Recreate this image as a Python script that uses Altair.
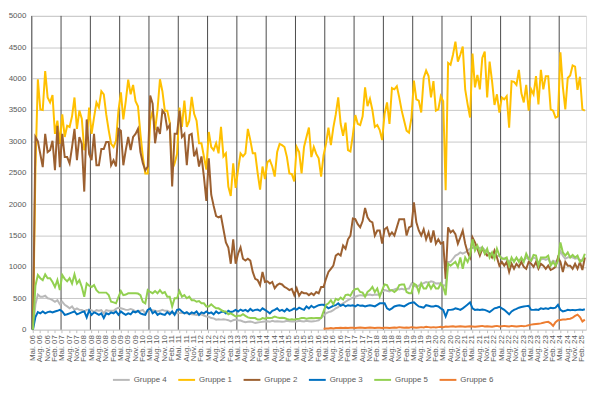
import altair as alt
import pandas as pd

# Month categories: Mai 06 ... Mär 25 (one per month)
MONTH_NAMES = ["Jan.", "Feb.", "Mär.", "Apr.", "Mai.", "Jun.", "Jul.", "Aug.", "Sep.", "Okt.", "Nov.", "Dez."]
months = []
for k in range(227):
    m = (4 + k) % 12
    y = 6 + (4 + k) // 12
    months.append(f"{MONTH_NAMES[m]} {y:02d}")
tick_labels = months[::3]
year_lines = months[::12]

series_order = ["Gruppe 4", "Gruppe 1", "Gruppe 2", "Gruppe 3", "Gruppe 5", "Gruppe 6"]
series_colors = ["#B9B9B9", "#FFC000", "#9C6030", "#0070C0", "#92D050", "#ED7D31"]

gruppe1 = [
    0, 2550, 3990, 3510, 3500, 4120, 3700, 3620, 3740, 3120, 3330,
    2960, 3430, 3070, 3250, 3230, 3400, 3700, 3200, 3490, 3360, 2860, 3010,
    3540, 3120, 3380, 3620, 3540, 3800, 3750, 3430, 3180, 2960, 2910, 3010,
    3490, 3780, 3350, 3640, 3985, 3750, 3900, 3640, 3560, 3120, 2750, 2490,
    2490, 3330, 3490, 3180, 3500, 3990, 3800, 3490, 3490, 3300, 2550, 2650,
    2800, 3540, 3230, 3650, 3230, 3330, 3710, 3440, 3330, 2970, 2970, 2760,
    2550, 3150, 2910, 2860, 2970, 2810, 3230, 2760, 2810, 2280, 2130, 2650,
    2260, 2550, 2810, 2760, 2810, 3200, 3020, 2810, 2810, 2500, 2230, 2600,
    2400, 2670, 2700, 2600, 2440, 2830, 2960, 2940, 2910, 2750, 2490, 2480,
    2360, 2910, 2830, 2490, 2910, 3070, 3220, 2750, 2910, 2800, 2730, 2440,
    2780, 2960, 3220, 2940, 3220, 3430, 3700, 3280, 3090, 3300, 2860, 2840,
    3100, 3420, 3280, 3260, 3400, 3860, 3560, 3680, 3500, 3230, 3260, 3180,
    3020, 3440, 3620, 3280, 3850, 3830, 3880, 3700, 3490, 3330, 3170, 3140,
    3380, 3970, 3670, 3650, 3460, 4010, 4130, 4040, 3700, 3960, 3490, 3510,
    3720, 3640, 2220, 4250, 4220, 4380, 4590, 4270, 4380, 4510, 3830, 3590,
    3380, 4400, 3860, 4060, 3830, 4330, 4430, 3700, 4270, 3960, 3580, 3750,
    3460, 3700, 3670, 3720, 3220, 3960, 3950, 3900, 4140, 3770, 3620, 3900,
    3490, 3830, 3750, 4040, 3590, 4140, 3830, 4040, 4040, 3510, 3490, 3380,
    3400, 4420, 3870, 3510, 4010, 4050, 4210, 4190, 3820, 4030, 3510, 3490,
]

gruppe2 = [
    0, 3070, 3000, 2800, 2590, 3120, 2830, 2860, 3010, 2540, 3250,
    2590, 3120, 2750, 2750, 2650, 2910, 3200, 2700, 3070, 2960, 2200, 3350,
    2800, 2700, 3120, 2620, 2620, 2880, 2880, 2990, 2990, 2620, 2700, 2600,
    3200, 3170, 2620, 2860, 3070, 2860, 3070, 3120, 3200, 2830, 2650, 2540,
    2600, 3730, 3600, 2970, 3230, 3120, 3490, 3440, 3200, 3260, 2280, 3120,
    3120, 3490, 3070, 3120, 2620, 3100, 3120, 2760, 2860, 2600, 2760, 2440,
    2050, 2730, 2150, 1970, 1810, 1790, 1810, 1600, 1390, 1310, 1050, 1440,
    1050, 1210, 1310, 1130, 1100, 1130, 1100, 920, 810, 790, 710, 920,
    760, 770, 735, 760, 660, 710, 735, 720, 680, 660, 630, 650,
    550, 660, 540, 600, 580, 580, 550, 580, 550, 600, 580, 680,
    680, 810, 920, 970, 1020, 1180, 1210, 1180, 1340, 1290, 1440, 1500,
    1770, 1760, 1680, 1630, 1730, 1940, 1790, 1730, 1710, 1500, 1580, 1580,
    1370, 1600, 1630, 1500, 1550, 1500, 1630, 1760, 1760, 1760, 1500, 1630,
    1650, 2030, 1710, 1580, 1500, 1600, 1440, 1550, 1390, 1580, 1370, 1440,
    1370, 1390, 810, 1630, 1550, 1580, 1520, 1370, 1470, 1580, 1370, 1230,
    1150, 1470, 1390, 1290, 1180, 1290, 1230, 1180, 1210, 1150, 1260, 1150,
    1020, 1080, 1020, 1080, 920, 1050, 970, 1050, 1000, 1080, 1000, 970,
    1080, 1050, 1000, 1080, 970, 1050, 1020, 970, 1020, 950, 970, 1000,
    1150, 1080, 920, 1080, 1020, 1020, 970, 1050, 970, 1080, 950, 1150,
]

gruppe3 = [
    0, 200, 280, 260, 290, 260, 280, 290, 275, 290, 300,
    315, 290, 235, 245, 260, 275, 290, 245, 260, 280, 290, 195,
    305, 235, 275, 260, 235, 260, 185, 260, 245, 275, 260, 290,
    235, 290, 260, 235, 260, 245, 290, 275, 300, 260, 245, 235,
    315, 340, 260, 290, 235, 260, 245, 235, 280, 245, 290, 235,
    315, 325, 290, 260, 280, 245, 275, 260, 290, 235, 275, 260,
    290, 260, 275, 245, 290, 260, 280, 290, 260, 300, 280, 290,
    315, 290, 320, 300, 315, 290, 330, 300, 315, 320, 300, 340,
    315, 290, 260, 300, 315, 340, 300, 315, 290, 330, 300, 315,
    340, 320, 350, 330, 315, 370, 340, 380, 350, 370, 390, 395,
    395, 370, 340, 360, 380, 390, 420, 380, 400, 370, 390, 380,
    390, 370, 395, 380, 385, 370, 380, 390, 380, 370, 395, 420,
    420, 420, 340, 315, 340, 370, 380, 390, 380, 370, 395, 420,
    430, 435, 400, 370, 360, 350, 390, 380, 370, 370, 380, 370,
    340, 315, 210, 315, 315, 320, 340, 330, 315, 340, 370, 400,
    435, 340, 315, 320, 315, 320, 315, 300, 280, 310, 340, 350,
    365, 340, 315, 280, 245, 290, 315, 330, 350, 360, 370, 375,
    380, 315, 315, 320, 315, 340, 330, 340, 330, 350, 340, 350,
    395, 315, 290, 300, 315, 310, 315, 310, 315, 320, 315, 325,
]

gruppe4 = [
    0, 400, 560, 525, 525, 540, 500, 490, 470, 445, 470,
    405, 445, 395, 370, 340, 370, 315, 340, 315, 315, 290, 315,
    315, 310, 280, 310, 300, 310, 260, 310, 300, 300, 300, 330,
    350, 340, 330, 315, 315, 330, 315, 290, 290, 300, 315, 260,
    315, 315, 310, 300, 290, 300, 315, 300, 300, 280, 260, 265,
    260, 265, 270, 260, 260, 255, 245, 240, 235, 240, 240, 225,
    210, 205, 185, 180, 160, 165, 160, 165, 160, 150, 130, 150,
    160, 150, 145, 130, 120, 125, 130, 120, 105, 115, 120, 125,
    130, 135, 125, 140, 130, 135, 130, 125, 130, 140, 135, 130,
    135, 130, 140, 135, 130, 140, 135, 130, 135, 140, 150, 185,
    220, 260, 280, 290, 310, 340, 360, 395, 420, 445, 470, 490,
    510, 525, 540, 550, 545, 540, 555, 560, 550, 560, 555, 560,
    600, 630, 620, 610, 630, 640, 655, 640, 650, 640, 650, 655,
    735, 700, 680, 700, 735, 740, 760, 750, 770, 760, 735, 740,
    735, 710, 700, 1080, 1080, 1130, 1180, 1200, 1230, 1210, 1230, 1260,
    1290, 1300, 1310, 1310, 1300, 1310, 1270, 1230, 1220, 1210, 1200, 1180,
    1170, 1150, 1120, 1120, 1080, 1130, 1100, 1140, 1100, 1130, 1100, 1150,
    1120, 1100, 1150, 1130, 1060, 1120, 1130, 1110, 1130, 1060, 1100, 1080,
    1120, 1250, 1180, 1130, 1150, 1160, 1150, 1130, 1140, 1100, 1120, 1150,
]

gruppe5 = [
    0, 700, 870, 820, 790, 880, 820, 820, 760, 680, 790,
    630, 870, 810, 770, 820, 735, 880, 735, 790, 680, 525, 735,
    700, 680, 710, 630, 590, 590, 590, 590, 550, 445, 435, 420,
    520, 615, 550, 560, 580, 580, 580, 580, 575, 550, 445, 420,
    630, 600, 580, 615, 580, 630, 580, 600, 525, 525, 370, 500,
    500, 615, 525, 550, 500, 525, 470, 470, 445, 455, 420, 420,
    370, 370, 405, 370, 340, 340, 315, 290, 290, 245, 260, 235,
    210, 220, 220, 245, 220, 195, 185, 185, 185, 160, 160, 185,
    175, 190, 185, 190, 210, 195, 185, 190, 185, 170, 160, 165,
    160, 170, 175, 185, 185, 175, 180, 185, 180, 185, 185, 185,
    290, 395, 420, 470, 405, 490, 470, 510, 480, 550, 560, 540,
    615, 645, 655, 600, 590, 525, 600, 630, 680, 600, 655, 525,
    630, 720, 710, 630, 630, 600, 630, 710, 720, 720, 600, 580,
    580, 735, 710, 600, 735, 655, 655, 735, 655, 720, 655, 655,
    735, 680, 550, 1050, 1020, 1050, 1080, 1000, 1150, 970, 1150, 1080,
    1180, 1440, 1260, 1340, 1230, 1310, 1210, 1290, 1150, 1230, 1130, 1290,
    1180, 1130, 1130, 1150, 1020, 1150, 1080, 1150, 1080, 1150, 1080, 1210,
    1130, 1100, 1190, 1180, 1020, 1150, 1150, 1150, 1180, 1020, 1080, 1020,
    1100, 1390, 1230, 1180, 1230, 1150, 1190, 1150, 1180, 1080, 1100, 1210,
]

# Gruppe 6 only reported from spring 2016 on
gruppe6_start = 119
gruppe6 = [
    15, 20, 20, 25, 20, 25, 25, 30, 25, 30, 25, 30,
    30, 25, 30, 35, 30, 25, 30, 35, 30, 25, 30, 30,
    25, 30, 30, 25, 30, 35, 30, 40, 35, 30, 35, 30,
    40, 35, 30, 35, 40, 35, 45, 40, 35, 40, 35, 40,
    45, 40, 50, 45, 50, 55, 45, 50, 55, 50, 45, 50,
    55, 50, 45, 50, 55, 60, 50, 55, 50, 45, 55, 60,
    50, 55, 60, 55, 50, 60, 55, 50, 55, 60, 55, 60,
    70, 80, 85, 90, 95, 100, 110, 120, 125, 100, 60, 120,
    150, 155, 160, 160, 170, 175, 190, 220, 240, 200, 130, 160,
]

series_data = {
    "Gruppe 4": (0, gruppe4),
    "Gruppe 1": (0, gruppe1),
    "Gruppe 2": (0, gruppe2),
    "Gruppe 3": (0, gruppe3),
    "Gruppe 5": (0, gruppe5),
    "Gruppe 6": (gruppe6_start, gruppe6),
}

rows = []
for name in series_order:
    start, vals = series_data[name]
    for j, v in enumerate(vals):
        k = start + j
        if k < len(months):
            rows.append({"month": months[k], "series": name, "value": v, "order": k})
df = pd.DataFrame(rows)
df_years = pd.DataFrame({"month": year_lines})

FONT = "Liberation Sans"
x_scale = alt.Scale(type="band", domain=months, paddingInner=0, paddingOuter=0)
y_scale = alt.Scale(domain=[0, 5000], nice=False, zero=True)
color_scale = alt.Scale(domain=series_order, range=series_colors)

x_axis = alt.Axis(
    values=tick_labels,
    labelAngle=270,
    labelFont=FONT,
    labelFontSize=8,
    labelColor="#595959",
    labelPadding=2,
    labelOverlap=False,
    labelBound=False,
    tickColor="#BFBFBF",
    tickSize=3,
    domain=False,
    grid=False,
    title=None,
)
y_axis = alt.Axis(
    values=list(range(0, 5001, 500)),
    format="d",
    grid=True,
    gridColor="#C8C8C8",
    gridWidth=1,
    domain=False,
    ticks=False,
    labelFont=FONT,
    labelFontSize=8,
    labelColor="#595959",
    labelPadding=6,
    title=None,
)
legend = alt.Legend(
    title=None,
    orient="none",
    legendX=81,
    legendY=358,
    direction="horizontal",
    symbolType="stroke",
    symbolSize=289,
    symbolStrokeWidth=2,
    labelFont=FONT,
    labelFontSize=8,
    labelColor="#595959",
    labelOffset=3,
    columnPadding=7,
    padding=0,
)

rules = alt.Chart(df_years).mark_rule(color="#4A4A4A", strokeWidth=1).encode(
    x=alt.X("month:O", scale=x_scale, bandPosition=0, axis=x_axis)
)

layers = [rules]
for name in series_order:
    sub = df[df["series"] == name]
    line = alt.Chart(sub).mark_line(strokeWidth=2).encode(
        x=alt.X("month:O", scale=x_scale, bandPosition=0.5, axis=x_axis),
        y=alt.Y("value:Q", scale=y_scale, axis=y_axis),
        color=alt.Color("series:N", scale=color_scale, legend=legend),
        order=alt.Order("order:Q"),
    )
    layers.append(line)

chart = alt.layer(*layers).properties(
    width=560,
    height=317,
    autosize=alt.AutoSizeParams(type="none"),
    padding={"left": 24, "top": 6, "right": 6, "bottom": 58},
).configure_view(stroke=None).configure(background="white")

chart.save("out.html", embed_options={"renderer": "svg", "actions": False})
